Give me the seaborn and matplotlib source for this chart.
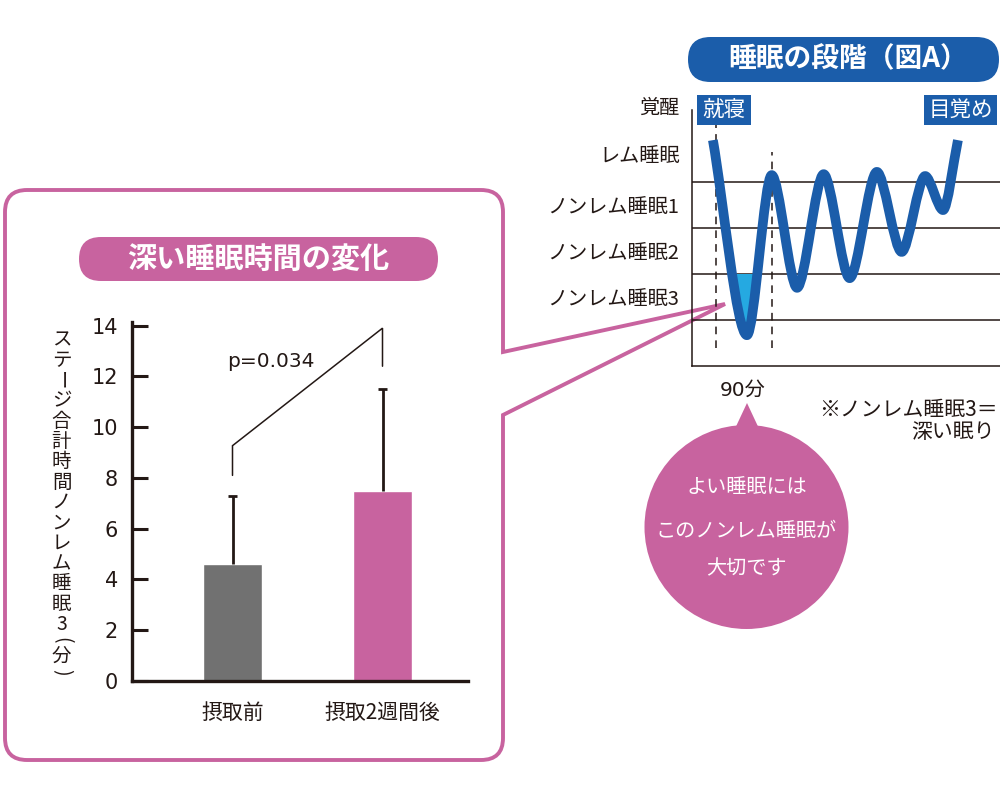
import numpy as np
import matplotlib
matplotlib.use("Agg")
import matplotlib.pyplot as plt
import seaborn as sns
from matplotlib.patches import FancyBboxPatch, PathPatch, Circle, Polygon, Rectangle
from matplotlib.path import Path

# --- bar chart: deep sleep minutes before / after ---
CATEGORIES = ["摂取前", "摂取2週間後"]
MEANS = [4.6, 7.5]
SD = [2.7, 4.0]
Y_TICKS = [0, 2, 4, 6, 8, 10, 12, 14]
BRACKET_X = [0, 0, 1, 1]
BRACKET_Y = [8.1, 9.27, 13.9, 12.4]
P_LABEL = "p=0.034"
Y_LABEL = "ステージ合計時間ノンレム睡眠3(分)"

# --- hypnogram (図A) ---
STAGE_LABELS = ["ノンレム睡眠3", "ノンレム睡眠2", "ノンレム睡眠1", "レム睡眠", "覚醒"]
STAGE_LINES = [1, 2, 3, 4]
WAVE_MIN = [-5, 50, 90, 131, 174, 216, 260, 300, 338, 367, 391]
WAVE_DEPTH = [4.91, 0.67, 4.15, 1.70, 4.17, 1.91, 4.22, 2.48, 4.13, 3.39, 4.91]
CYCLE_MARKS = [0, 90]

PINK = "#C8639F"
GRAY = "#717171"
BLUE = "#1B5DAA"
CYAN = "#25A9E1"
INK = "#231815"
NUM_FONT = ["DejaVu Sans", "Noto Sans CJK JP"]


def wave_path(xs, ys, k=0.3):
    """Bezier path through the turning points, flat at each peak/trough."""
    verts = [(xs[0], ys[0])]
    codes = [Path.MOVETO]
    n = len(xs)
    for i in range(n - 1):
        dx, dy = xs[i + 1] - xs[i], ys[i + 1] - ys[i]
        c1 = (xs[i] + dx * 0.3, ys[i] + dy * 0.3) if i == 0 else (xs[i] + dx * k, ys[i])
        c2 = ((xs[i + 1] - dx * 0.3, ys[i + 1] - dy * 0.3) if i == n - 2
              else (xs[i + 1] - dx * k, ys[i + 1]))
        verts += [c1, c2, (xs[i + 1], ys[i + 1])]
        codes += [Path.CURVE4] * 3
    return verts, codes


sns.set_theme(style="white")
plt.rcParams["font.family"] = ["Noto Sans CJK JP", "DejaVu Sans"]

fig = plt.figure(figsize=(10, 8), dpi=100)

# background layer in pixel units for the decorations
bg = fig.add_axes([0, 0, 1, 1], zorder=0)
bg.set_xlim(0, 1000)
bg.set_ylim(800, 0)
bg.axis("off")

# rounded frame with a callout toward the hypnogram
L, R, T, B, r = 5, 503, 190, 760, 22
verts = [(L + r, T), (R - r, T), (R, T), (R, T + r), (R, 352), (725, 304), (R, 415),
         (R, B - r), (R, B), (R - r, B), (L + r, B), (L, B), (L, B - r), (L, T + r),
         (L, T), (L + r, T), (L + r, T)]
codes = [Path.MOVETO, Path.LINETO, Path.CURVE3, Path.CURVE3, Path.LINETO, Path.LINETO,
         Path.LINETO, Path.LINETO, Path.CURVE3, Path.CURVE3, Path.LINETO, Path.CURVE3,
         Path.CURVE3, Path.LINETO, Path.CURVE3, Path.CURVE3, Path.CLOSEPOLY]
bg.add_patch(PathPatch(Path(verts, codes), fc="none", ec=PINK, lw=2.8, joinstyle="miter"))

# title pills
bg.add_patch(FancyBboxPatch((79, 237), 359, 44, boxstyle="round,pad=0,rounding_size=22",
                            fc=PINK, ec="none"))
bg.text(258.5, 259, "深い睡眠時間の変化", color="white", fontsize=21, fontweight="bold",
        ha="center", va="center")
bg.add_patch(FancyBboxPatch((688, 37), 311, 45, boxstyle="round,pad=0,rounding_size=22.5",
                            fc=BLUE, ec="none"))
bg.text(848, 59, "睡眠の段階（図A）", color="white", fontsize=20, fontweight="bold",
        ha="center", va="center")

# sleep / wake tags
bg.add_patch(Rectangle((697, 95), 54, 30, fc=BLUE, ec="none"))
bg.text(724, 110, "就寝", color="white", fontsize=15.5, ha="center", va="center")
bg.add_patch(Rectangle((924, 95), 73, 30, fc=BLUE, ec="none"))
bg.text(960.5, 110, "目覚め", color="white", fontsize=15.5, ha="center", va="center")

bg.text(743, 390, "90分", color=INK, fontsize=14.5, ha="center", va="center",
        family=NUM_FONT)
bg.text(998, 410, "※ノンレム睡眠3＝", color=INK, fontsize=15, ha="right", va="center")
bg.text(995, 432, "深い眠り", color=INK, fontsize=15, ha="right", va="center")

# speech bubble
bg.add_patch(Polygon([(747, 403), (732, 435), (762, 435)], closed=True, fc=PINK, ec="none"))
bg.add_patch(Circle((746.5, 527), 102, fc=PINK, ec="none"))
for txt, yy in zip(["よい睡眠には", "このノンレム睡眠が", "大切です"], [487, 531, 569]):
    bg.text(746.5, yy, txt, color="white", fontsize=14.5, ha="center", va="center")

# vertical y-axis label, one character per row
ypos = 330.0
for ch in Y_LABEL:
    h = 12.0 if ch in "()" else 20.3
    rot = -90 if ch in "ー()" else 0
    bg.text(61.5, ypos + h / 2, ch, color=INK, fontsize=14, ha="center", va="center",
            rotation=rot, rotation_mode="anchor")
    ypos += h

# --- bar chart ---
ax = fig.add_axes([0.1317, 0.14875, 0.336, 0.449], zorder=1)
ax.set_facecolor("none")
sns.barplot(x=CATEGORIES, y=MEANS, hue=CATEGORIES, palette=[GRAY, PINK], width=0.39,
            saturation=1, legend=False, errorbar=None, ax=ax)
xpos = np.arange(len(CATEGORIES))
tops = np.array(MEANS) + np.array(SD)
ax.vlines(xpos, MEANS, tops, color=INK, lw=2.0, zorder=3)
ax.hlines(tops, xpos - 0.03, xpos + 0.03, color=INK, lw=2.0, zorder=3)
ax.plot(BRACKET_X, BRACKET_Y, color=INK, lw=1.1, solid_joinstyle="miter")
ax.text(0.257, 12.59, P_LABEL, ha="center", va="center", fontsize=14.5, color=INK,
        family=NUM_FONT)

ax.set_xlim(-0.672, 1.568)
ax.set_ylim(0, 14.15)
ax.set_yticks(Y_TICKS)
ax.set_xlabel("")
ax.set_ylabel("")
for side in ["top", "right"]:
    ax.spines[side].set_visible(False)
for side in ["left", "bottom"]:
    ax.spines[side].set_linewidth(2.4)
    ax.spines[side].set_color(INK)
ax.tick_params(axis="y", left=True, direction="in", length=11.3, width=2.2, color=INK,
               labelsize=15, pad=10, labelcolor=INK)
for lab in ax.get_yticklabels():
    lab.set_family(NUM_FONT)
ax.tick_params(axis="x", length=0, labelsize=15, pad=15, labelcolor=INK)

# --- hypnogram ---
ax2 = fig.add_axes([0.692, 0.5425, 0.308, 0.3306], zorder=1)
ax2.set_facecolor("none")
ax2.set_xlim(-38.8, 459)
ax2.set_ylim(0, 5.75)
for lvl in STAGE_LINES:
    ax2.axhline(lvl, color=INK, lw=1.1, zorder=1)
ax2.vlines(CYCLE_MARKS, 0.39, [5.24, 4.65], colors=INK, lw=1.1, linestyles=(0, (5, 4)),
           zorder=1)

wv, wc = wave_path(WAVE_MIN, WAVE_DEPTH)
# deep-sleep part of the first cycle, below the ノンレム睡眠3 boundary
dip = PathPatch(Path(wv[:7] + [wv[0]], wc[:7] + [Path.CLOSEPOLY]), fc=CYAN, ec="none",
                zorder=2)
ax2.add_patch(dip)
dip.set_clip_path(Rectangle((-60, -1), 300, 1 + STAGE_LINES[1], transform=ax2.transData))
ax2.add_patch(PathPatch(Path(wv, wc), fc="none", ec=BLUE, lw=7, capstyle="butt",
                        joinstyle="round", zorder=3))

ax2.set_yticks([1.5, 2.5, 3.5, 4.6, 5.65])
ax2.set_yticklabels(STAGE_LABELS)
ax2.set_xticks([])
ax2.tick_params(axis="y", length=0, pad=9, labelsize=14.5, labelcolor=INK)
for side in ["top", "right"]:
    ax2.spines[side].set_visible(False)
for side in ["left", "bottom"]:
    ax2.spines[side].set_linewidth(1.1)
    ax2.spines[side].set_color(INK)
ax2.spines["left"].set_bounds(0, 5.57)

fig.savefig("out.png", dpi=100)
